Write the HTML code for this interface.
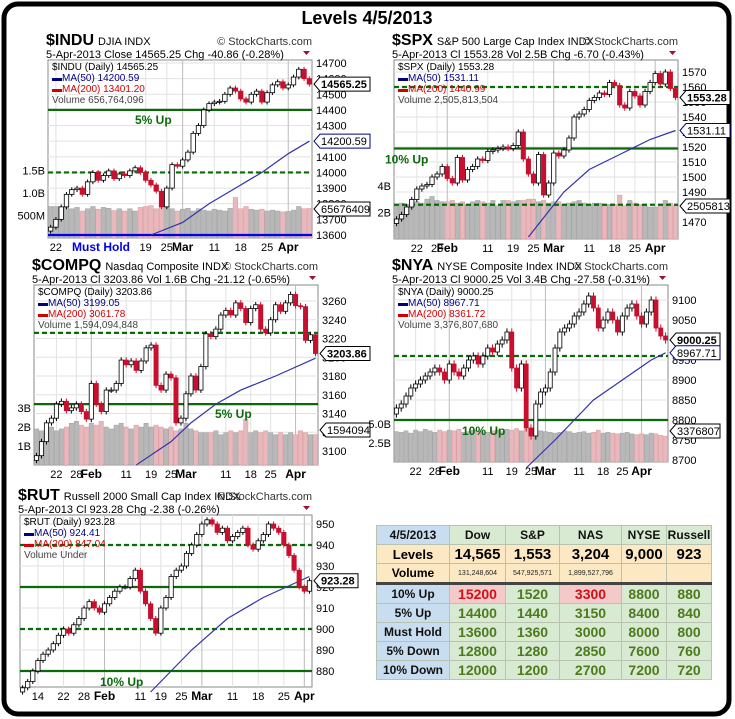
<!DOCTYPE html>
<html><head><meta charset="utf-8"><style>
body{margin:0;background:#fff;}
#wrap{position:relative;width:735px;height:719px;overflow:hidden;font-family:"Liberation Sans",sans-serif;}
svg text{font-family:"Liberation Sans",sans-serif;}
#tbl{position:absolute;left:376px;top:525px;border-collapse:collapse;font-family:"Liberation Sans",sans-serif;font-weight:bold;text-align:center;}
#tbl td{border:1px solid #b8c4b0;padding:0;height:18px;font-size:12px;}
.lb{background:#c9ddf0;color:#111;}
.hd{background:#d9ead3;color:#111;font-size:12px;}
.lv{background:#fde8c4;color:#000;font-size:15px !important;}
.vol{background:#fde8c4;font-size:7px !important;font-weight:normal;color:#222;}
.g{background:#d9ead3;color:#4e7a1e;font-size:14px !important;}
.r{background:#f3c9c9;color:#d0101a;font-size:14px !important;}
</style></head><body>
<div id="wrap">
<svg id="svg" width="735" height="719" xmlns="http://www.w3.org/2000/svg">
<rect x="4" y="4" width="725" height="710" rx="14" fill="#fff" stroke="#000" stroke-width="5"/>
<text x="367" y="24" text-anchor="middle" font-size="18" font-weight="bold">Levels 4/5/2013</text>
</svg>
<table id="tbl">
<tr style="height:15px"><td class="lb" style="width:72px">4/5/2013</td><td class="hd" style="width:55px">Dow</td><td class="hd" style="width:53px">S&amp;P</td><td class="hd" style="width:61px">NAS</td><td class="hd" style="width:44px">NYSE</td><td class="hd" style="width:44px">Russell</td></tr>
<tr><td class="lv" style="font-size:13px!important">Levels</td><td class="lv">14,565</td><td class="lv">1,553</td><td class="lv">3,204</td><td class="lv">9,000</td><td class="lv">923</td></tr>
<tr style="border-bottom:3px solid #444"><td class="lv" style="font-size:12px!important;height:13px">Volume</td><td class="vol">131,248,604</td><td class="vol">547,925,571</td><td class="vol">1,899,527,796</td><td class="vol"></td><td class="vol"></td></tr>
<tr><td class="lb">10% Up</td><td class="r">15200</td><td class="g">1520</td><td class="r">3300</td><td class="g">8800</td><td class="g">880</td></tr>
<tr><td class="lb">5% Up</td><td class="g">14400</td><td class="g">1440</td><td class="g">3150</td><td class="g">8400</td><td class="g">840</td></tr>
<tr><td class="lb">Must Hold</td><td class="g">13600</td><td class="g">1360</td><td class="g">3000</td><td class="g">8000</td><td class="g">800</td></tr>
<tr><td class="lb">5% Down</td><td class="g">12800</td><td class="g">1280</td><td class="g">2850</td><td class="g">7600</td><td class="g">760</td></tr>
<tr><td class="lb">10% Down</td><td class="g">12000</td><td class="g">1200</td><td class="g">2700</td><td class="g">7200</td><td class="g">720</td></tr>
</table>
</div>
<script>
// ---- data ----
const induClose=[13650,13700,13780,13860,13890,13900,13860,13940,14000,13950,13980,14010,13960,13990,13980,14010,14030,14000,13950,13920,13880,13780,13900,14050,14040,14080,14130,14250,14300,14400,14440,14450,14455,14500,14540,14520,14470,14450,14500,14520,14450,14510,14560,14580,14540,14560,14610,14660,14600,14565];
const induVol=[700,700,690,680,650,680,600,650,700,640,680,660,610,650,600,650,600,680,700,720,650,700,720,650,600,640,660,600,650,620,600,640,620,600,660,900,650,700,640,620,640,600,620,600,580,590,620,700,650,657];
const induTicks=[13600,13700,13800,13900,14000,14100,14200,14300,14400,14500,14600,14700];
const induMaIdx=[19,25,30,35,40,45,49];
const induMaVal=[13600,13680,13800,13900,14000,14120,14200];
const induXLab=['22','19','25','Mar','11','18','25','Apr'];
const induXIdx=[1,18,22,25,31,36,41,45];

const spxClose=[1472,1475,1480,1485,1492,1494,1495,1500,1502,1507,1499,1496,1513,1498,1505,1507,1512,1511,1517,1518,1519,1520,1519,1521,1530,1512,1502,1496,1515,1488,1496,1516,1514,1518,1526,1540,1542,1545,1551,1553,1556,1555,1563,1561,1548,1546,1557,1554,1548,1557,1563,1569,1562,1570,1559,1553];
const spxVol=[2.6,2.7,2.6,3.0,2.8,2.7,3.0,3.2,2.9,2.8,2.8,2.9,2.7,2.8,2.6,2.8,2.9,2.8,2.7,2.9,2.5,2.9,2.9,2.8,2.9,2.9,3.0,3.0,2.8,2.9,2.7,2.8,2.8,2.6,2.7,2.8,2.9,2.7,2.6,2.7,2.7,2.5,2.6,2.6,3.3,2.5,2.9,2.7,2.6,2.5,2.4,2.4,2.6,2.9,2.7,2.5];
const spxTicks=[1470,1480,1490,1500,1510,1520,1530,1540,1550,1560,1570];
const spxMaIdx=[26,33,38,44,50,55];
const spxMaVal=[1460,1490,1505,1515,1525,1531];
const spxXLab=['22','28','Feb','11','19','25','Mar','11','18','25','Apr'];
const spxXIdx=[4,8,10,18,23,27,31,38,43,47,51];

const compClose=[3095,3110,3130,3135,3150,3153,3143,3146,3150,3142,3134,3172,3150,3142,3165,3165,3172,3197,3192,3196,3186,3196,3210,3213,3170,3165,3182,3178,3130,3135,3161,3180,3165,3190,3225,3222,3230,3245,3250,3245,3258,3252,3237,3252,3256,3230,3226,3240,3256,3249,3258,3267,3255,3254,3218,3224,3204];
const compVol=[1.9,1.8,1.9,2.0,1.8,1.9,2.0,2.2,2.3,2.1,2.0,2.2,2.1,2.3,2.0,1.9,2.1,2.2,2.0,1.9,2.1,2.0,2.2,2.0,2.1,2.0,1.9,2.0,1.8,1.9,2.2,1.9,1.8,1.7,1.7,1.7,1.8,1.6,1.7,1.8,1.7,1.8,2.4,1.7,1.8,1.7,1.8,1.7,1.6,1.7,1.6,1.7,1.6,1.8,1.7,1.6,1.6];
const compTicks=[3100,3120,3140,3160,3180,3200,3220,3240,3260];
const compMaIdx=[20,27,31,36,41,48,56];
const compMaVal=[3085,3110,3130,3150,3165,3180,3199];
const compXLab=['22','28','Feb','11','19','25','Mar','11','18','25','Apr'];
const compXIdx=[4,8,11,18,23,27,30,38,43,47,52];

const nyaClose=[8830,8840,8860,8880,8890,8900,8910,8920,8930,8920,8900,8940,8920,8910,8930,8950,8960,8940,8960,8980,8970,8990,9000,9020,8930,8880,8940,8780,8760,8840,8870,8880,8920,8980,9020,9030,9040,9060,9070,9090,9110,9080,9030,9050,9070,9050,9020,9060,9080,9090,9060,9040,9070,9100,9030,9010,9000];
const nyaVol=[4.0,3.9,4.1,3.8,4.2,4.0,4.3,4.1,3.9,4.2,4.0,4.2,4.1,4.3,3.9,4.0,4.2,4.1,4.0,3.9,4.1,4.2,4.0,4.3,4.2,4.4,4.1,4.3,4.4,4.2,4.1,4.0,3.9,3.8,3.9,4.1,4.0,3.8,3.9,4.0,3.8,3.9,4.2,3.8,3.9,3.8,3.7,3.8,3.9,3.7,3.6,3.7,3.6,3.8,3.7,3.5,3.4];
const nyaTicks=[8700,8750,8800,8850,8900,8950,9050,9100];
const nyaMaIdx=[27,33,41,47,53,56];
const nyaMaVal=[8680,8750,8850,8900,8950,8968];
const nyaXLab=['22','28','Feb','11','19','25','Mar','11','18','25','Apr'];
const nyaXIdx=[4,8,11,19,24,28,31,38,43,47,51];

const rutClose=[872,875,880,885,888,890,893,897,900,898,902,905,910,913,910,908,912,915,918,920,920,924,928,918,912,905,898,910,915,925,928,930,936,940,945,950,952,950,946,948,942,944,946,948,940,938,942,945,950,948,946,940,935,928,920,918,923];
const rutTicks=[880,890,900,910,920,930,940,950];
const rutMaIdx=[25,33,40,47,56];
const rutMaVal=[870,890,905,915,925];
const rutXLab=['14','22','28','Feb','11','19','25','Mar','11','18','25','Apr'];
const rutXIdx=[3,8,12,16,23,27,31,35,41,46,51,55];

// ---- renderer ----
const NS='http://www.w3.org/2000/svg';
const svg=document.getElementById('svg');
function mk(tag,attrs,txt){const e=document.createElementNS(NS,tag);for(const k in attrs)e.setAttribute(k,attrs[k]);if(txt!==undefined)e.textContent=txt;svg.appendChild(e);return e;}

function chart(c){
  const n=c.close.length, sp=(c.x1-c.x0)/n;
  const X=i=>c.x0+sp*(i+0.5);
  const Y=p=>c.yA+(p-c.pA)*(c.yB-c.yA)/(c.pB-c.pA);
  const VY=v=>c.y1-v*c.vScale;
  const fr=mk('rect',{x:c.x0,y:c.y0,width:c.x1-c.x0,height:c.y1-c.y0,fill:'#fff',stroke:'#888','stroke-width':1});
  
  
  c.ticks.forEach(t=>{const y=Y(t);if(y<c.y0||y>c.y1+2)return;
    const g=mk('line',{x1:c.x0,x2:c.x1,y1:y,y2:y,stroke:'#e2e2e2'});
    
    
    const tl=mk('text',{x:c.x1+4,y:y+4,'font-size':11},t);
    
    });
  c.xIdx.forEach((ix,k)=>{const x=X(ix);
    const g=mk('line',{x1:x,x2:x,y1:c.y0,y2:c.y1,stroke:(c.xLab[k]==='Mar'||c.xLab[k]==='Apr'||c.xLab[k]==='Feb')?'#bbb':'#e2e2e2'});
    
    
    const isM=/[A-Za-z]/.test(c.xLab[k]);
    const tl=mk('text',{x:x,y:c.y1+13,'font-size':isM?12:11,'font-weight':isM?'bold':'normal','text-anchor':'middle'},c.xLab[k]);
    
    });
  if(c.vol){c.vol.forEach((v,i)=>{const up=i===0||c.close[i]>=c.close[i-1];
    const b=mk('rect',{x:X(i)-sp/2+0.3,y:VY(v),width:sp-0.6,height:c.y1-VY(v),fill:up?'#b8b8b8':'#e9b8bc',stroke:up?'#a0a0a0':'#d89aa0','stroke-width':0.5});
    
    });
    c.vTicks.forEach((t,k)=>{const tl=mk('text',{x:c.x0-3,y:VY(c.vTickVal[k])+4,'font-size':11,'text-anchor':'end'},t);
      
      });
  }
  c.levels.forEach(L=>{const y=Y(L.v);
    const l=mk('line',{x1:c.x0,x2:c.x1,y1:y,y2:y,stroke:L.color||'#0a6a0a','stroke-width':2.2,'stroke-dasharray':L.dash?'5,3':'none'});
    
    
    if(L.label){const t=mk('text',{x:L.lx,y:y+L.ly,'font-size':12,'font-weight':'bold',fill:'#0a6a0a'},L.label);
      
      }});
  let d='';c.maIdx.forEach((ix,k)=>{d+=(k?'L':'M')+X(ix)+','+Y(c.maVal[k]);});
  const ma=mk('path',{d:d,fill:'none',stroke:'#3333aa','stroke-width':1.2});
  
  
  c.close.forEach((cl,i)=>{const op=i===0?cl-c.wick:c.close[i-1];const up=cl>=op;
    const hi=Math.max(op,cl)+c.wick*0.6, lo=Math.min(op,cl)-c.wick*0.6;
    const w=mk('line',{x1:X(i),x2:X(i),y1:Y(hi),y2:Y(lo),stroke:up?'#000':'#c8102e'});
    
    
    const top=Math.min(Y(op),Y(cl));const h=Math.max(1,Math.abs(Y(op)-Y(cl)));
    const b=mk('rect',{x:X(i)-sp*0.42,y:top,width:sp*0.84,height:h,fill:up?'#fff':'#c8102e',stroke:up?'#000':'#c8102e','stroke-width':0.8});
    
    });
  const t1=mk('text',{x:c.x0-2,y:c.y0-15,'font-size':16,'font-weight':'bold'},c.sym);
  
  
  const t2=mk('text',{x:c.x0+2+t1.getComputedTextLength(),y:c.y0-15,'font-size':11},c.desc);
  
  
  const t3=mk('text',{x:c.x1,y:c.y0-15,'font-size':11,'text-anchor':'end',fill:'#333'},'© StockCharts.com');
  
  
  const t4=mk('text',{x:c.x0-2,y:c.y0-2,'font-size':11},c.line2);
  
  
  const tri=mk('path',{d:`M${c.x1-9},${c.y0-9}h7l-3.5,4z`,fill:'#a01030'});
  
  
  c.legend.forEach((s,k)=>{const t=mk('text',{x:c.x0+4,y:c.y0+10+k*11,'font-size':10,fill:['#000','#000080','#d00000','#444'][k]},s);
    
    });
  c.boxes.forEach(B=>{const y=B.y!==undefined?B.y:Y(B.v);
    const p=mk('path',{d:`M${c.x1+2},${y}l6,-7h${B.w}v14h-${B.w}z`,fill:'#fff',stroke:B.c||'#000','stroke-width':1});
    
    
    const t=mk('text',{x:c.x1+9,y:y+4,'font-size':11,'font-weight':B.b?'bold':'normal'},B.t);
    
    });
}

chart({id:'indu',x0:48,x1:312,y0:60,y1:238,pA:14700,yA:63,pB:13600,yB:235,close:induClose,vol:induVol.map(v=>v/1000),vScale:45,vTicks:['500M','1.0B','1.5B'],vTickVal:[0.5,1.0,1.5],wick:25,ticks:induTicks,maIdx:induMaIdx,maVal:induMaVal,xLab:induXLab,xIdx:induXIdx,
 levels:[{v:14400,label:'5% Up',lx:135,ly:14},{v:14000,dash:true},{v:13600,color:'#0000ee'}],
 sym:'$INDU',desc:'DJIA  INDX',line2:'5-Apr-2013      Close 14565.25  Chg -40.86 (-0.28%)',
 legend:['$INDU (Daily) 14565.25','▬MA(50) 14200.59','▬MA(200) 13401.20','Volume 656,764,096'],
 boxes:[{v:14565,t:'14565.25',w:50,b:true},{v:14200,t:'14200.59',w:50,c:'#000080'},{y:209,t:'65676409',w:50}]});
const mh=mk('text',{x:72,y:251,'font-size':12,'font-weight':'bold',fill:'#0000ee'},'Must Hold');



chart({id:'spx',x0:394,x1:678,y0:60,y1:239,pA:1570,yA:72,pB:1470,yB:222,close:spxClose,vol:spxVol,vScale:13.3,vTicks:['2B','4B'],vTickVal:[2,4],wick:3,ticks:spxTicks,maIdx:spxMaIdx,maVal:spxMaVal,xLab:spxXLab,xIdx:spxXIdx,
 levels:[{v:1519,label:'10% Up',lx:385,ly:15},{v:1560,dash:true},{v:1481.5,dash:true}],
 sym:'$SPX',desc:'S&P 500 Large Cap Index  INDX',line2:'5-Apr-2013     Cl 1553.28  Vol 2.5B  Chg -6.70 (-0.43%)',
 legend:['$SPX (Daily) 1553.28','▬MA(50) 1531.11','▬MA(200) 1440.99','Volume 2,505,813,504'],
 boxes:[{v:1553,t:'1553.28',w:44,b:true},{v:1531,t:'1531.11',w:44,c:'#000080'},{y:206,t:'2505813',w:44}]});

chart({id:'compq',x0:34,x1:318,y0:285,y1:465,pA:3260,yA:301,pB:3100,yB:451,close:compClose,vol:compVol,vScale:19,vTicks:['1B','2B','3B'],vTickVal:[1,2,3],wick:5,ticks:compTicks,maIdx:compMaIdx,maVal:compMaVal,xLab:compXLab,xIdx:compXIdx,
 levels:[{v:3226,dash:true},{v:3150,label:'5% Up',lx:215,ly:14}],
 sym:'$COMPQ',desc:'Nasdaq Composite  INDX',line2:'5-Apr-2013     Cl 3203.86  Vol 1.6B  Chg -21.12 (-0.65%)',
 legend:['$COMPQ (Daily) 3203.86','▬MA(50) 3199.05','▬MA(200) 3061.78','Volume 1,594,094,848'],
 boxes:[{v:3204,t:'3203.86',w:44,b:true},{y:430,t:'1594094',w:44}]});

chart({id:'nya',x0:394,x1:668,y0:285,y1:462,pA:9100,yA:300,pB:8700,yB:460,close:nyaClose,vol:nyaVol,vScale:7.6,vTicks:['2.5B','5.0B'],vTickVal:[2.5,5],wick:15,ticks:nyaTicks,maIdx:nyaMaIdx,maVal:nyaMaVal,xLab:nyaXLab,xIdx:nyaXIdx,
 levels:[{v:8960,dash:true},{v:8800,label:'10% Up',lx:462,ly:15}],
 sym:'$NYA',desc:'NYSE Composite Index  INDX',line2:'5-Apr-2013     Cl 9000.25  Vol 3.4B  Chg -27.58 (-0.31%)',
 legend:['$NYA (Daily) 9000.25','▬MA(50) 8967.71','▬MA(200) 8361.72','Volume 3,376,807,680'],
 boxes:[{v:9000,t:'9000.25',w:44,b:true},{v:8968,t:'8967.71',w:44,c:'#000080'},{y:431,t:'3376807',w:44}]});

chart({id:'rut',x0:20,x1:312,y0:515,y1:687,pA:950,yA:524,pB:880,yB:671,close:rutClose,vol:null,wick:2,ticks:rutTicks,maIdx:rutMaIdx,maVal:rutMaVal,xLab:rutXLab,xIdx:rutXIdx,
 levels:[{v:940,dash:true},{v:920},{v:900,dash:true},{v:880,label:'10% Up',lx:100,ly:15}],
 sym:'$RUT',desc:'Russell 2000 Small Cap Index  INDX',line2:'5-Apr-2013     Cl 923.28  Chg -2.38 (-0.26%)',
 legend:['$RUT (Daily) 923.28','▬MA(50) 924.41','▬MA(200) 847.04','Volume Under'],
 boxes:[{v:923,t:'923.28',w:38,b:true}]});
</script>
</body></html>
